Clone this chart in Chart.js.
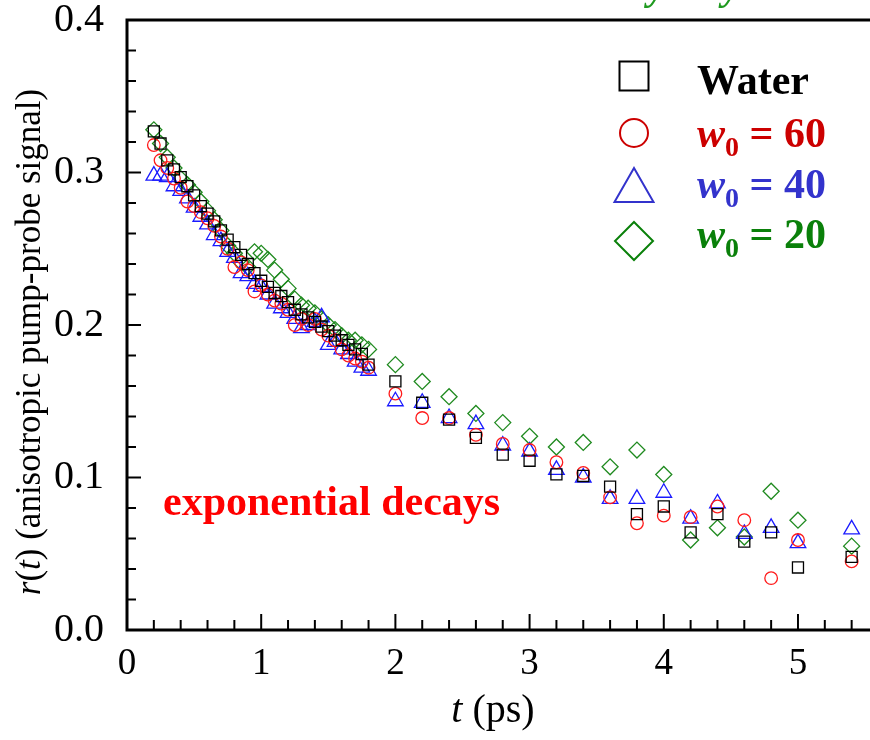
<!DOCTYPE html>
<html>
<head>
<meta charset="utf-8">
<script src="https://cdn.jsdelivr.net/npm/chart.js@4/dist/chart.umd.min.js"></script>
<style>
  html, body { margin: 0; padding: 0; background: #fff; overflow: hidden; }
  #wrap { width: 870px; height: 740px; position: relative; }
</style>
</head>
<body>
<div id="wrap"><canvas id="c"></canvas></div>
<script>
// Delay times (ps)
const times = [
  0.20, 0.25, 0.30, 0.35, 0.40, 0.45, 0.50, 0.55, 0.60, 0.65, 0.70,
  0.75, 0.80, 0.85, 0.90, 0.95, 1.00, 1.05, 1.10, 1.15, 1.20, 1.25,
  1.30, 1.35, 1.40, 1.45, 1.50, 1.55, 1.60, 1.65, 1.70, 1.75, 1.80,
  2.0, 2.2, 2.4, 2.6, 2.8, 3.0, 3.2, 3.4, 3.6, 3.8, 4.0, 4.2, 4.4, 4.6, 4.8, 5.0, 5.4
];

// Anisotropy r(t) for each sample
const water = [
  0.327, 0.319, 0.308, 0.302, 0.297, 0.291, 0.285, 0.278, 0.273, 0.268, 0.262,
  0.256, 0.251, 0.246, 0.240, 0.234, 0.229, 0.225, 0.221, 0.219, 0.215, 0.210,
  0.207, 0.205, 0.202, 0.199, 0.196, 0.193, 0.190, 0.187, 0.184, 0.181, 0.174,
  0.163, 0.149, 0.138, 0.126, 0.115, 0.111, 0.102, 0.101, 0.094, 0.076, 0.081,
  0.064, 0.076, 0.058, 0.064, 0.041, 0.048
];
const w60 = [
  0.318, 0.308, 0.303, 0.296, 0.290, 0.281, 0.278, 0.274, 0.270, 0.265, 0.258,
  0.250, 0.238, 0.241, 0.236, 0.222, 0.226, 0.220, 0.216, 0.214, 0.210, 0.200,
  0.204, 0.200, 0.204, 0.197, 0.193, 0.190, 0.184, 0.180, 0.178, 0.176, 0.172,
  0.155, 0.139, 0.139, 0.128, 0.122, 0.118, 0.110, 0.103, 0.087, 0.070, 0.075,
  0.074, 0.081, 0.072, 0.034, 0.059, 0.045
];
const w40 = [
  0.298, 0.298, 0.297, 0.291, 0.288, 0.283, 0.277, 0.271, 0.266, 0.259, 0.255,
  0.248, 0.244, 0.234, 0.232, 0.227, 0.225, 0.220, 0.214, 0.211, 0.208, 0.204,
  0.198, 0.200, 0.202, 0.205, 0.187, 0.189, 0.184, 0.181, 0.176, 0.172, 0.170,
  0.150, 0.149, 0.139, 0.135, 0.121, 0.117, 0.105, 0.100, 0.086, 0.086, 0.090,
  0.073, 0.083, 0.063, 0.067, 0.057, 0.066
];
const w20 = [
  0.328, 0.319, 0.310, 0.303, 0.296, 0.292, 0.287, 0.281, 0.275, 0.269, 0.262,
  0.252, 0.247, 0.241, 0.238, 0.248, 0.247, 0.243, 0.236, 0.230, 0.224, 0.217,
  0.213, 0.211, 0.208, 0.204, 0.200, 0.197, 0.193, 0.190, 0.190, 0.187, 0.184,
  0.174, 0.163, 0.153, 0.142, 0.136, 0.127, 0.120, 0.123, 0.107, 0.118, 0.102,
  0.059, 0.067, 0.061, 0.091, 0.072, 0.055
];

const xTicks = [0, 1, 2, 3, 4, 5];
const yTicks = [0.0, 0.1, 0.2, 0.3, 0.4];

const SERIF = '"Liberation Serif", "Times New Roman", Times, serif';

function pts(ys) { return times.map((t, i) => ({ x: t, y: ys[i] })); }

// Axes, ticks, frame, titles, legend and annotation drawn on the canvas
const decorations = {
  id: 'decorations',
  afterDraw(chart) {
    const ctx = chart.ctx;
    const xs = chart.scales.x, ys = chart.scales.y;
    const area = chart.chartArea;
    const L = area.left, B = area.bottom, T = area.top, R = chart.width;
    ctx.save();
    ctx.strokeStyle = '#000';
    ctx.lineCap = 'butt';

    // minor + major ticks (inward)
    ctx.lineWidth = 2;
    for (let k = 0; k <= 27; k++) {
      const v = k * 0.2;
      const px = xs.getPixelForValue(v);
      if (px > R) break;
      const len = (k % 5 === 0) ? 16 : 10;
      ctx.beginPath(); ctx.moveTo(px, B); ctx.lineTo(px, B - len); ctx.stroke();
    }
    for (let k = 0; k <= 20; k++) {
      const v = k * 0.02;
      const py = ys.getPixelForValue(v);
      const len = (k % 5 === 0) ? 14 : 9;
      ctx.beginPath(); ctx.moveTo(L, py); ctx.lineTo(L + len, py); ctx.stroke();
    }

    // frame: left, bottom and top edges
    ctx.lineWidth = 3;
    ctx.beginPath();
    ctx.moveTo(R, T); ctx.lineTo(L, T); ctx.lineTo(L, B); ctx.lineTo(R, B);
    ctx.stroke();

    // x-axis title: t (ps)
    ctx.fillStyle = '#000';
    ctx.textBaseline = 'alphabetic';
    const fx = 40;
    ctx.font = 'italic ' + fx + 'px ' + SERIF;
    const wT = ctx.measureText('t').width;
    ctx.font = fx + 'px ' + SERIF;
    const wP = ctx.measureText(' (ps)').width;
    let x0 = 493 - (wT + wP) / 2;
    ctx.font = 'italic ' + fx + 'px ' + SERIF;
    ctx.fillText('t', x0, 722);
    ctx.font = fx + 'px ' + SERIF;
    ctx.fillText(' (ps)', x0 + wT, 722);

    // y-axis title: r(t) (anisotropic pump-probe signal)
    const fy = 35;
    const parts = [
      ['r', true], ['(', false], ['t', true], [') (anisotropic pump-probe signal)', false]
    ];
    let total = 0;
    parts.forEach(p => {
      ctx.font = (p[1] ? 'italic ' : '') + fy + 'px ' + SERIF;
      p.push(ctx.measureText(p[0]).width); total += p[2];
    });
    ctx.save();
    ctx.translate(40, 342);
    ctx.rotate(-Math.PI / 2);
    let cx = -total / 2;
    parts.forEach(p => {
      ctx.font = (p[1] ? 'italic ' : '') + fy + 'px ' + SERIF;
      ctx.fillText(p[0], cx, 0);
      cx += p[2];
    });
    ctx.restore();

    // annotation
    ctx.fillStyle = '#ff0000';
    ctx.font = 'bold 42px ' + SERIF;
    ctx.fillText('exponential decays', 163, 515);

    // caption running off the top edge
    ctx.fillStyle = '#1f9a1f';
    ctx.font = 'italic bold 40px ' + SERIF;
    ctx.fillText('by Fayer et al.', 628, -1);

    // legend
    const mx = 634;
    const rows = [
      { y: 76, color: '#000000', shape: 'square' },
      { y: 133, n: '60', color: '#cc0000', shape: 'circle' },
      { y: 186, n: '40', color: '#3333cc', shape: 'triangle' },
      { y: 241, n: '20', color: '#0a800a', shape: 'diamond' }
    ];
    const baselines = [94, 147, 198, 248];
    rows.forEach((r, i) => {
      ctx.strokeStyle = r.color;
      ctx.lineWidth = 2;
      ctx.beginPath();
      if (r.shape === 'square') ctx.rect(mx - 14.5, r.y - 14.5, 29, 29);
      else if (r.shape === 'circle') ctx.arc(mx, r.y, 14, 0, Math.PI * 2);
      else if (r.shape === 'triangle') {
        ctx.moveTo(mx, 168); ctx.lineTo(mx + 19.5, 202); ctx.lineTo(mx - 19.5, 202); ctx.closePath();
      } else {
        ctx.moveTo(mx, r.y - 19); ctx.lineTo(mx + 19, r.y); ctx.lineTo(mx, r.y + 19); ctx.lineTo(mx - 19, r.y); ctx.closePath();
      }
      ctx.stroke();

      ctx.fillStyle = r.color;
      const bl = baselines[i];
      let tx = 697;
      if (i === 0) {
        ctx.font = 'bold 42px ' + SERIF;
        ctx.fillText('Water', tx, bl);
      } else {
        ctx.font = 'italic bold 42px ' + SERIF;
        ctx.fillText('w', tx, bl);
        tx += ctx.measureText('w').width;
        ctx.font = 'bold 28px ' + SERIF;
        ctx.fillText('0', tx, bl + 9);
        tx += ctx.measureText('0').width;
        ctx.font = 'bold 42px ' + SERIF;
        ctx.fillText(' = ' + r.n, tx, bl);
      }
    });
    ctx.restore();
  }
};

const common = { showLine: false, backgroundColor: 'rgba(0,0,0,0)', pointBorderWidth: 1.3, pointHoverRadius: 0, clip: false };

new Chart(document.getElementById('c'), {
  type: 'scatter',
  data: {
    datasets: [
      Object.assign({ label: 'Water', data: pts(water), pointStyle: 'rect', pointRadius: 7.8, borderColor: '#000000' }, common),
      Object.assign({ label: 'w0 = 60', data: pts(w60), pointStyle: 'circle', pointRadius: 6.3, borderColor: '#ff1a1a' }, common),
      Object.assign({ label: 'w0 = 40', data: pts(w40), pointStyle: 'triangle', pointRadius: 9, borderColor: '#1a1aff' }, common),
      Object.assign({ label: 'w0 = 20', data: pts(w20), pointStyle: 'rectRot', pointRadius: 8, borderColor: '#1f8a1f' }, common)
    ]
  },
  options: {
    responsive: true,
    maintainAspectRatio: false,
    animation: false,
    events: [],
    layout: { padding: { top: 20, right: 0, left: 0, bottom: 0 } },
    plugins: { legend: { display: false }, tooltip: { enabled: false } },
    scales: {
      x: {
        type: 'linear', min: 0, max: 5.46,
        afterBuildTicks: axis => { axis.ticks = xTicks.map(v => ({ value: v })); },
        afterFit: s => { s.height = 110; s.paddingLeft = 0; s.paddingRight = 0; },
        grid: { display: false },
        border: { display: false },
        ticks: { color: '#000', padding: 4, font: { family: SERIF, size: 37 }, maxRotation: 0, callback: v => String(v) }
      },
      y: {
        type: 'linear', min: 0, max: 0.4,
        afterBuildTicks: axis => { axis.ticks = yTicks.map(v => ({ value: v })); },
        afterFit: s => { s.width = 127; s.paddingTop = 0; s.paddingBottom = 0; },
        grid: { display: false },
        border: { display: false },
        ticks: { color: '#000', padding: 15, font: { family: SERIF, size: 40 }, callback: v => v.toFixed(1) }
      }
    }
  },
  plugins: [decorations]
});
</script>
</body>
</html>
